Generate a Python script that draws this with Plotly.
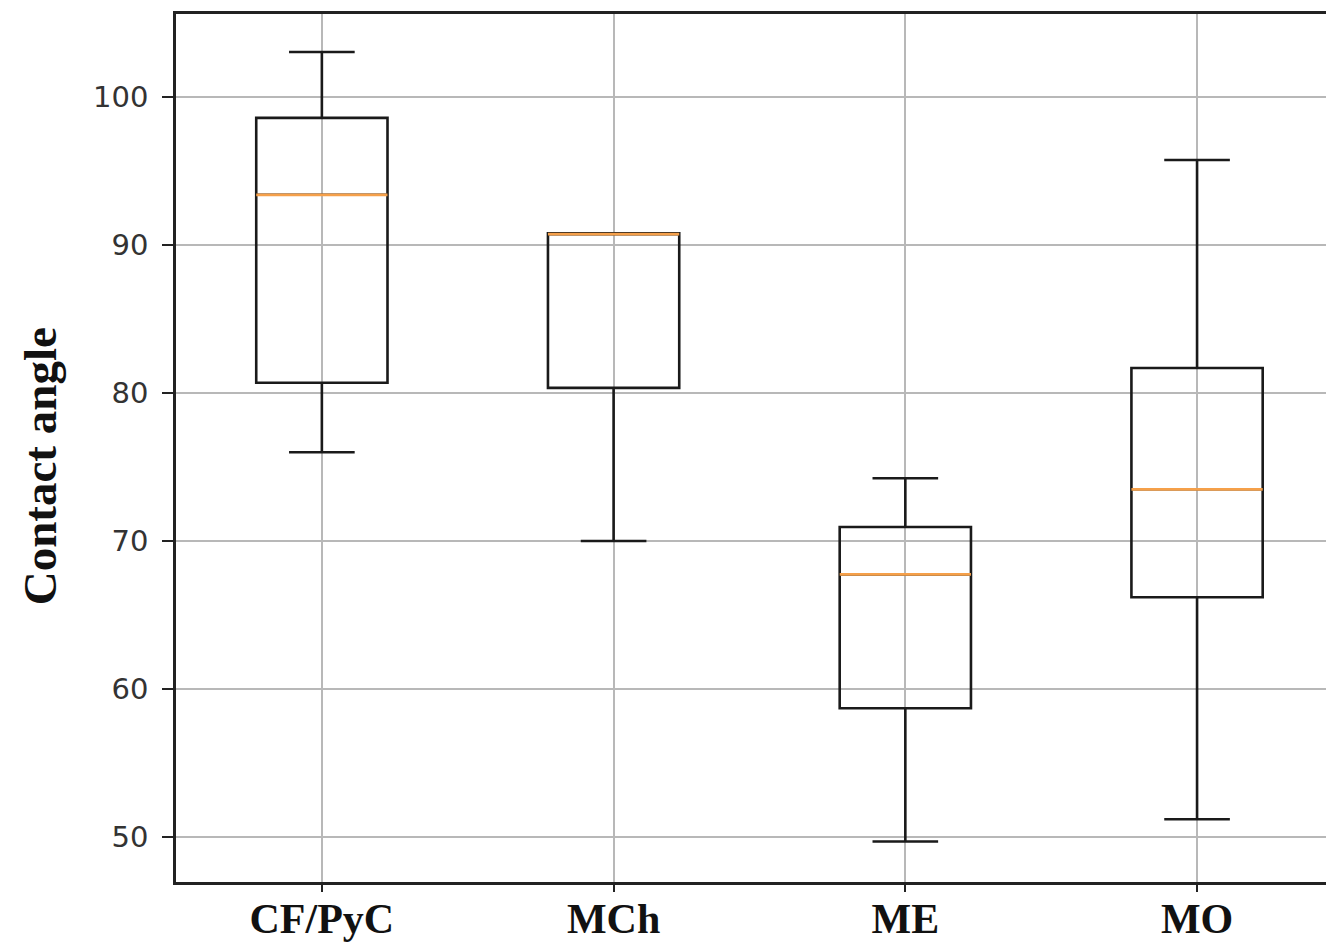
import plotly.graph_objects as go

# Contact angle summary statistics per sample group
groups = ["CF/PyC", "MCh", "ME", "MO"]
positions = [1, 2, 3, 4]
lower_whisker = [76.0, 70.0, 49.7, 51.2]
q1 = [80.7, 80.35, 58.7, 66.2]
median = [93.4, 90.75, 67.75, 73.5]
q3 = [98.6, 90.8, 70.95, 81.7]
upper_whisker = [103.05, 90.8, 74.25, 95.75]

box_width = 0.45
y_ticks = [50, 60, 70, 80, 90, 100]

fig = go.Figure()

fig.add_trace(go.Box(
    x=positions,
    q1=q1,
    median=median,
    q3=q3,
    lowerfence=lower_whisker,
    upperfence=upper_whisker,
    width=box_width,
    whiskerwidth=0.5,
    fillcolor="rgba(0,0,0,0)",
    line=dict(color="#1a1a1a", width=2.6),
    boxpoints=False,
    hoverinfo="skip",
    showlegend=False,
))

# Orange median lines drawn over the boxes
mx, my = [], []
for p, m in zip(positions, median):
    mx += [p - box_width / 2, p + box_width / 2, None]
    my += [m, m, None]
fig.add_trace(go.Scatter(
    x=mx, y=my, mode="lines",
    line=dict(color="#f5a04a", width=2.8),
    hoverinfo="skip", showlegend=False,
))

fig.update_layout(
    width=1326, height=945,
    margin=dict(l=176, r=0, t=14, b=63),
    paper_bgcolor="white",
    plot_bgcolor="white",
    showlegend=False,
    annotations=[dict(
        text="<b>Contact angle</b>",
        textangle=-90,
        xref="paper", x=0, xshift=-136, xanchor="center",
        yref="paper", y=0.479, yanchor="middle",
        showarrow=False,
        font=dict(family="Liberation Serif", size=47, color="#111"),
    )],
)

fig.update_xaxes(
    range=[0.5, 4.442],
    tickmode="array",
    tickvals=positions,
    ticktext=["<b>%s</b>" % g for g in groups],
    tickfont=dict(family="Liberation Serif", size=42, color="#111"),
    ticklabelstandoff=-9,
    automargin=False,
    showgrid=True, gridcolor="#b8b8b8", gridwidth=1.6,
    showline=True, linecolor="#222", linewidth=2.5, mirror=True,
    ticks="outside", ticklen=7, tickcolor="#222", tickwidth=1.5,
    zeroline=False,
)

fig.update_yaxes(
    range=[46.96, 105.62],
    tickmode="array",
    tickvals=y_ticks,
    tickfont=dict(family="DejaVu Sans", size=29, color="#333"),
    ticklabelstandoff=8,
    automargin=False,
    showgrid=True, gridcolor="#b8b8b8", gridwidth=1.6,
    showline=True, linecolor="#222", linewidth=2.5, mirror=False,
    ticks="outside", ticklen=11, tickcolor="#222", tickwidth=1.5,
    zeroline=False,
)

fig.write_html("out.html")
